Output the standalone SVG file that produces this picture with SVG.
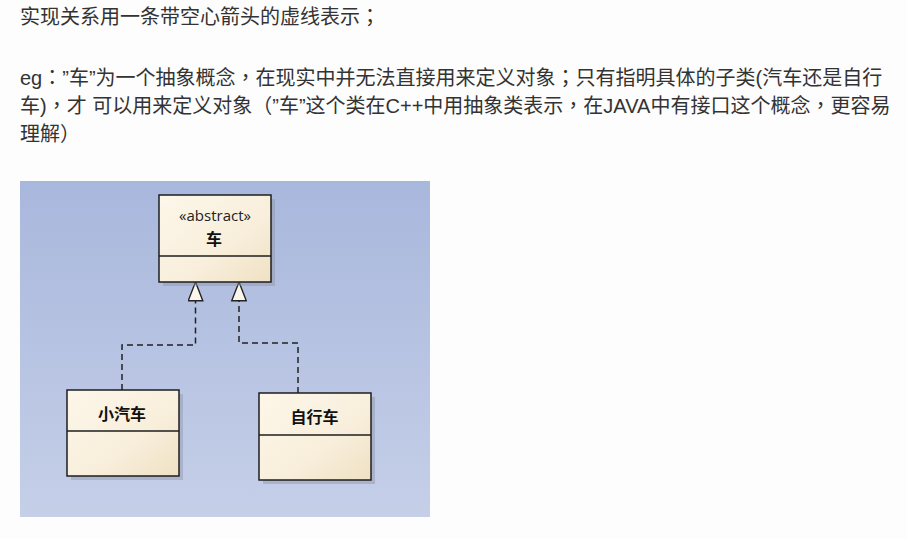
<svg xmlns="http://www.w3.org/2000/svg" width="907" height="539" viewBox="0 0 907 539">
<defs>
<linearGradient id="bg" x1="0" y1="0" x2="0" y2="1">
<stop offset="0" stop-color="#a8b7dc"/>
<stop offset="1" stop-color="#c5cfe8"/>
</linearGradient>
<linearGradient id="box" x1="0" y1="0" x2="1" y2="1">
<stop offset="0" stop-color="#fdf7ea"/>
<stop offset="0.6" stop-color="#f8eedb"/>
<stop offset="1" stop-color="#efe1c3"/>
</linearGradient>
<marker id="hollow" viewBox="0 0 20 16" refX="19.5" refY="8" markerWidth="20" markerHeight="16" markerUnits="userSpaceOnUse" orient="auto">
<path d="M19.5,8 L0.7,0.7 L0.7,15.3 Z" fill="#fbf6ec" stroke="#222" stroke-width="1.4"/>
</marker>
<style>
.para{font-family:"Liberation Sans","Noto Sans CJK SC",sans-serif;font-size:20px;fill:#333}
.tc{font-family:"Noto Sans CJK TC",sans-serif}
.cls{fill:url(#box);stroke:#1e1e1e;stroke-width:1.5}
.shadow{fill:#8f95a8;opacity:0.45}
.div{stroke:#1e1e1e;stroke-width:1.5}
.name{font-family:"Noto Sans CJK SC",sans-serif;font-size:16px;font-weight:bold;fill:#111;text-anchor:middle}
.stereo{font-family:"Open Sans","Liberation Sans",sans-serif;font-size:15px;fill:#222;text-anchor:middle}
.conn{fill:none;stroke:#222;stroke-width:1.5;stroke-dasharray:6,4}
</style>
</defs>
<rect width="907" height="539" fill="#fdfdfd"/>
<text class="para" x="20" y="24">实现关系用一条带空心箭头的虚线表示<tspan class="tc">；</tspan></text>
<text class="para" x="20" y="85">eg<tspan class="tc">：</tspan>”车”为一个抽象概念<tspan class="tc">，</tspan>在现实中并无法直接用来定义对象<tspan class="tc">；</tspan>只有指明具体的子类(汽车还是自行</text>
<text class="para" x="20" y="113">车)<tspan class="tc">，</tspan>才 可以用来定义对象（”车”这个类在C++中用抽象类表示<tspan class="tc">，</tspan>在JAVA中有接口这个概念<tspan class="tc">，</tspan>更容易</text>
<text class="para" x="20" y="141">理解）</text>
<rect x="20" y="181" width="410" height="336" fill="url(#bg)"/>
<g id="connectors">
<path class="conn" d="M122,390 V345 H195.5 V282" marker-end="url(#hollow)"/>
<path class="conn" d="M298,393 V343 H239 V282" marker-end="url(#hollow)"/>
</g>
<g id="node-car">
<rect class="shadow" x="163" y="199" width="112" height="87"/>
<rect class="cls" x="159" y="195" width="112" height="87"/>
<line class="div" x1="159" y1="256" x2="271" y2="256"/>
<text class="stereo" x="215" y="220.5">«abstract»</text>
<text class="name" x="214" y="245">车</text>
</g>
<g id="node-xiaoqiche">
<rect class="shadow" x="71" y="394" width="112" height="86"/>
<rect class="cls" x="67" y="390" width="112" height="86"/>
<line class="div" x1="67" y1="431" x2="179" y2="431"/>
<text class="name" x="122" y="420">小汽车</text>
</g>
<g id="node-zixingche">
<rect class="shadow" x="263" y="397" width="112" height="87"/>
<rect class="cls" x="259" y="393" width="112" height="87"/>
<line class="div" x1="259" y1="435" x2="371" y2="435"/>
<text class="name" x="314.5" y="423">自行车</text>
</g>
</svg>
